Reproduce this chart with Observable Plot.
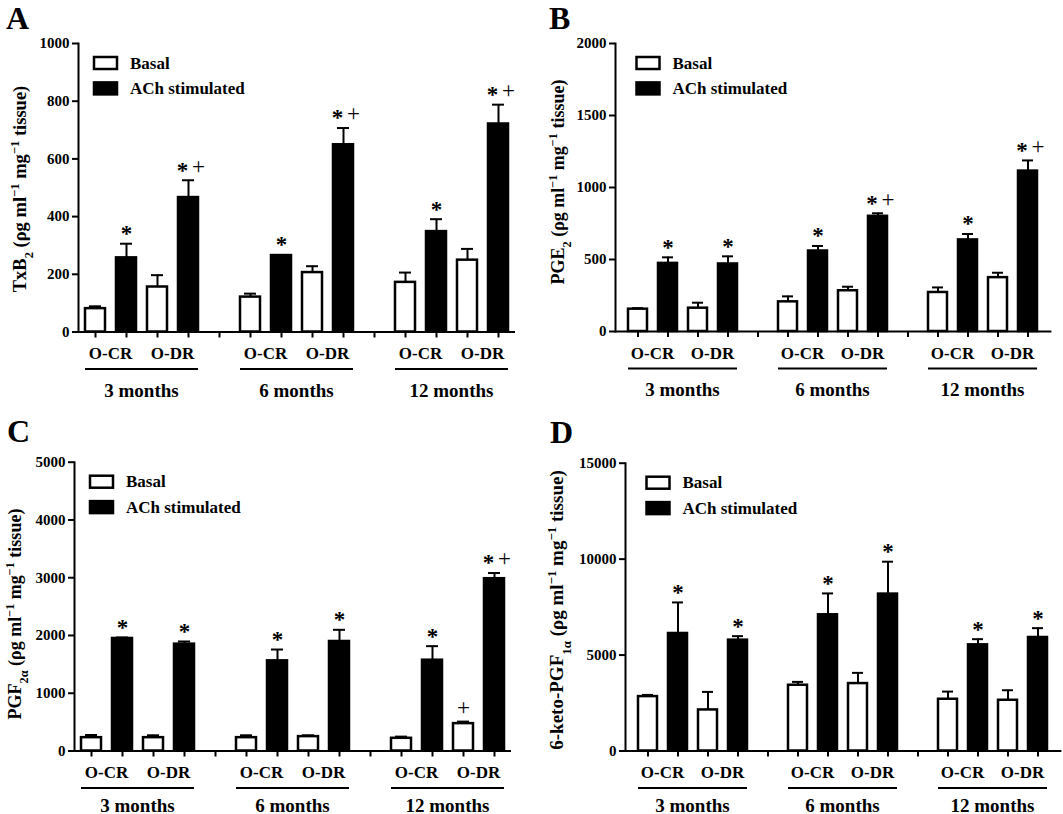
<!DOCTYPE html>
<html><head><meta charset="utf-8">
<script src="https://cdn.jsdelivr.net/npm/d3@7"></script>
<script src="https://cdn.jsdelivr.net/npm/@observablehq/plot@0.6"></script>
<style>
body{margin:0;background:#fff;}
#fig{position:relative;width:1063px;height:814px;overflow:hidden;background:#fff;}
#fig svg{position:absolute;overflow:visible;}
</style></head><body><div id="fig"></div>
<script>
// ---- data ----
const periods = ["3 months", "6 months", "12 months"];
const groups = ["O-CR", "O-DR"];
const treatments = ["Basal", "ACh stimulated"];

// order: for each period, for each group, Basal then ACh stimulated
const txb2Mean = [81, 257, 156, 466, 121, 265, 206, 649, 172, 348, 249, 721];
const txb2Err  = [8, 49, 41, 60, 12, 2, 22, 58, 34, 43, 39, 67];
const txb2Sig  = ["", "*", "", "*+", "", "*", "", "*+", "", "*", "", "*+"];
const txb2Ticks = [0, 200, 400, 600, 800, 1000];

const pge2Mean = [155, 473, 162, 469, 206, 559, 283, 800, 271, 636, 374, 1114];
const pge2Err  = [7, 42, 38, 53, 38, 35, 28, 21, 35, 41, 34, 74];
const pge2Sig  = ["", "*", "", "*", "", "*", "", "*+", "", "*", "", "*+"];
const pge2Ticks = [0, 500, 1000, 1500, 2000];

const pgf2aMean = [231, 1948, 231, 1850, 231, 1561, 249, 1896, 220, 1572, 474, 2983];
const pgf2aErr  = [46, 17, 41, 46, 41, 196, 23, 202, 29, 243, 35, 98];
const pgf2aSig  = ["", "*", "", "*", "", "*", "", "*", "", "*", "+", "*+"];
const pgf2aTicks = [0, 1000, 2000, 3000, 4000, 5000];

const ketoMean = [2836, 6125, 2140, 5777, 3428, 7099, 3515, 8178, 2697, 5533, 2645, 5916];
const ketoErr  = [87, 1618, 940, 209, 174, 1114, 557, 1688, 400, 296, 522, 487];
const ketoSig  = ["", "*", "", "*", "", "*", "", "*", "", "*", "", "*"];
const ketoTicks = [0, 5000, 10000, 15000];

// ---- helpers ----
const FONT = "'Liberation Serif', 'Times New Roman', serif";

function buildRows(means, errs, sig) {
  const rows = [];
  let i = 0;
  periods.forEach(p => groups.forEach(g => treatments.forEach(t => {
    rows.push({slot: `${p}|${g}|${t}`, period: p, group: g, treatment: t,
               mean: means[i], top: means[i] + errs[i], sig: sig[i]});
    i++;
  })));
  return rows;
}
function slotDomain() {
  const d = [];
  periods.forEach((p, pi) => {
    groups.forEach(g => treatments.forEach(t => d.push(`${p}|${g}|${t}`)));
    if (pi < periods.length - 1) d.push(`gap${pi}`);
  });
  return d;
}

function panel(cfg) {
  const rows = buildRows(cfg.mean, cfg.err, cfg.sig);
  const domain = slotDomain();
  const pI = 1 - 20 / cfg.step;
  const pO = cfg.offset / cfg.step - (1 - pI) / 2;
  const L = (domain.length - 1) * cfg.step + 2 * cfg.offset;
  const mr = cfg.width - cfg.ml - L;

  const plot = Plot.plot({
    width: cfg.width, height: cfg.height,
    marginLeft: cfg.ml, marginRight: mr, marginTop: cfg.mt, marginBottom: cfg.mb,
    style: {fontFamily: FONT, fontSize: "15px", fontWeight: "bold", color: "black", background: "transparent", overflow: "visible"},
    x: {type: "band", domain, paddingInner: pI, paddingOuter: pO, axis: null},
    y: {domain: [0, cfg.ticks[cfg.ticks.length - 1]], axis: null},
    color: {domain: treatments, range: ["white", "black"]},
    marks: [
      Plot.axisY({ticks: cfg.ticks, tickSize: 6, tickPadding: 3, strokeWidth: 2, label: null, tickFormat: d => String(d), fontSize: 15, fontWeight: "bold", fill: "black"}),
      Plot.axisX({tickSize: 6, strokeWidth: 2, tickFormat: () => "", label: null}),
      Plot.ruleX(rows, {x: "slot", y1: "mean", y2: "top", strokeWidth: 2}),
      Plot.tickY(rows, {x: "slot", y: "top", strokeWidth: 2, insetLeft: 4, insetRight: 4}),
      Plot.barY(rows, {x: "slot", y: "mean", fill: "treatment", stroke: "black", strokeWidth: 2.5}),
      Plot.text(rows.filter(d => d.sig === "*"), {x: "slot", y: "top", text: () => "*", dy: -10, fontSize: 23, fontWeight: "bold", fill: "black"}),
      Plot.text(rows.filter(d => d.sig === "*+"), {x: "slot", y: "top", text: () => "*", dx: -6, dy: -10, fontSize: 23, fontWeight: "bold", fill: "black"}),
      Plot.text(rows.filter(d => d.sig === "*+"), {x: "slot", y: "top", text: () => "+", dx: 10, dy: -14, fontSize: 23, fontWeight: "normal", fill: "black"}),
      Plot.text(rows.filter(d => d.sig === "+"), {x: "slot", y: "top", text: () => "+", dy: -14, fontSize: 23, fontWeight: "normal", fill: "black"}),
      Plot.ruleY([0], {strokeWidth: 2}),
      Plot.frame({anchor: "left", strokeWidth: 2})
    ]
  });
  plot.style.left = cfg.left + "px";
  plot.style.top = cfg.top + "px";

  const svg = d3.select(plot);
  const x = plot.scale("x"), y = plot.scale("y");
  const bw = x.bandwidth;
  const cx = k => x.apply(k) + bw / 2;
  const y0 = y.apply(0);
  const txt = (xx, yy, s, size, anchor) => svg.append("text").attr("x", xx).attr("y", yy)
    .attr("text-anchor", anchor).attr("fill", "black")
    .attr("font-family", FONT).attr("font-weight", "bold").attr("font-size", size).text(s);

  // group labels, underline and period labels
  periods.forEach(p => {
    groups.forEach(g => {
      const c = (cx(`${p}|${g}|Basal`) + cx(`${p}|${g}|ACh stimulated`)) / 2;
      txt(c, y0 + 27.5, g, 17, "middle");
    });
    const x1 = x.apply(`${p}|O-CR|Basal`), x2 = x.apply(`${p}|O-DR|ACh stimulated`) + bw;
    svg.append("line").attr("x1", x1).attr("x2", x2).attr("y1", y0 + 37.5).attr("y2", y0 + 37.5)
      .attr("stroke", "black").attr("stroke-width", 2);
    txt((x1 + x2) / 2, y0 + cfg.monthDy, p, 19, "middle");
  });

  // legend
  const lx = x.apply(domain[0]) + bw / 2 - 1;
  const ly = y.apply(cfg.ticks[cfg.ticks.length - 1]) + 14;
  treatments.forEach((t, i) => {
    svg.append("rect").attr("x", lx).attr("y", ly + i * 25.4).attr("width", 23).attr("height", 12)
      .attr("fill", i === 0 ? "white" : "black").attr("stroke", "black").attr("stroke-width", 2.5);
    txt(lx + 36, ly + i * 25.4 + 11.5, t, 17, "start");
  });

  // panel letter
  txt(cfg.letterX, cfg.letterY, cfg.letter, 32, "start");

  // y label with sub/superscripts
  const t = svg.append("text").attr("transform", `translate(${cfg.labX},${cfg.labY}) rotate(-90)`)
    .attr("text-anchor", "middle").attr("fill", "black").attr("font-family", FONT).attr("font-weight", "bold").attr("font-size", cfg.labSize);
  cfg.label.forEach(([s, kind]) => {
    const ts = t.append("tspan").text(s);
    if (kind === "sub") ts.attr("baseline-shift", "sub").attr("font-size", cfg.labSize * 0.68);
    if (kind === "sup") ts.attr("baseline-shift", "super").attr("font-size", cfg.labSize * 0.68);
  });

  document.getElementById("fig").appendChild(plot);
}

const unitTail = [[" (ρg ml"], ["−1", "sup"], [" mg"], ["−1", "sup"], [" tissue)"]];

panel({letter: "A", left: 0, top: 0, width: 530, height: 410, ml: 78, mt: 43, mb: 78.5, step: 31, offset: 17,
  mean: txb2Mean, err: txb2Err, sig: txb2Sig, ticks: txb2Ticks, monthDy: 65,
  letterX: 6, letterY: 29, labX: 26, labY: 189, labSize: 18.5,
  label: [["TxB"], ["2", "sub"], ...unitTail]});
panel({letter: "B", left: 530, top: 0, width: 533, height: 410, ml: 85, mt: 43, mb: 79, step: 30.8, offset: 18,
  mean: pge2Mean, err: pge2Err, sig: pge2Sig, ticks: pge2Ticks, monthDy: 65,
  letterX: 19, letterY: 29, labX: 34, labY: 182, labSize: 18,
  label: [["PGE"], ["2", "sub"], ...unitTail]});
panel({letter: "C", left: 0, top: 410, width: 530, height: 404, ml: 74, mt: 51.7, mb: 63.5, step: 31, offset: 17,
  mean: pgf2aMean, err: pgf2aErr, sig: pgf2aSig, ticks: pgf2aTicks, monthDy: 61,
  letterX: 7, letterY: 32, labX: 21, labY: 204, labSize: 18,
  label: [["PGF"], ["2α", "sub"], ...unitTail]});
panel({letter: "D", left: 530, top: 410, width: 533, height: 404, ml: 95, mt: 52.7, mb: 63.5, step: 30.8, offset: 18,
  mean: ketoMean, err: ketoErr, sig: ketoSig, ticks: ketoTicks, monthDy: 61,
  letterX: 20, letterY: 33, labX: 33, labY: 200, labSize: 19,
  label: [["6-keto-PGF"], ["1α", "sub"], ...unitTail]});
</script></body></html>
